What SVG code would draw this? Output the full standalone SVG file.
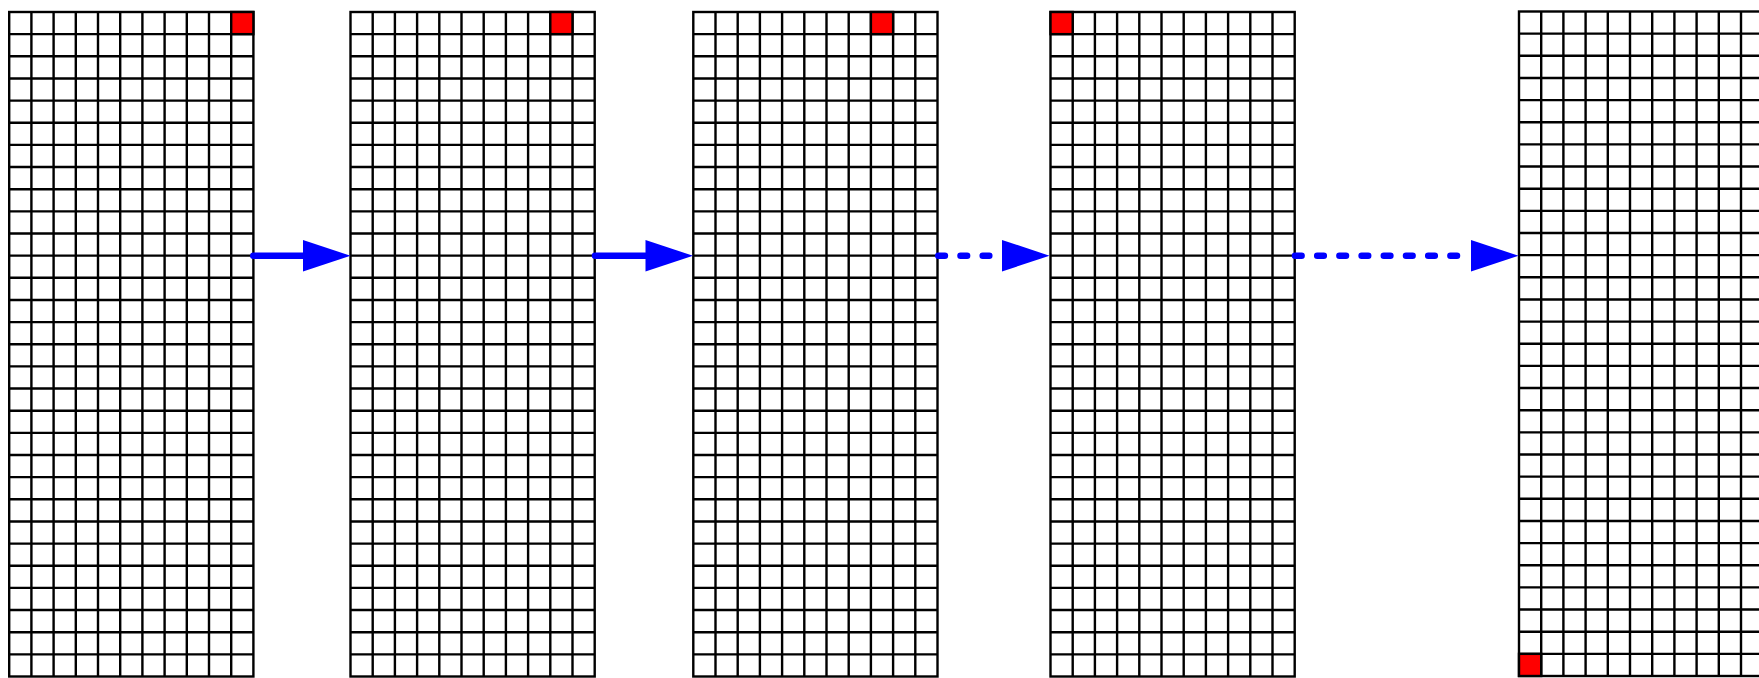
<svg xmlns="http://www.w3.org/2000/svg" xmlns:xlink="http://www.w3.org/1999/xlink" width="1759" height="678" viewBox="0 0 1759 678">
<style>
.gl{fill:none;stroke:#000;stroke-width:2.4}
.bg{fill:#fff;stroke:#000;stroke-width:2.4}
.hot{fill:#ff0000;stroke:#000;stroke-width:2.4}
.arr{fill:none;stroke:#0000ff;stroke-width:6.5;stroke-linecap:round}
.dash{stroke-dasharray:6.6 15.6}
</style>
<defs>
<marker id="head" markerUnits="userSpaceOnUse" markerWidth="48" markerHeight="32" refX="0" refY="15.75" orient="auto" overflow="visible">
<path d="M0,0 L47.5,15.75 L0,31.5 Z" fill="#0000ff"/>
</marker>
<g id="grid">
<rect class="bg" x="0" y="0" width="244.2" height="664.5"/>
<path class="gl" d="M22.2 0V664.5M44.4 0V664.5M66.6 0V664.5M88.8 0V664.5M111 0V664.5M133.2 0V664.5M155.4 0V664.5M177.6 0V664.5M199.8 0V664.5M222 0V664.5M0 22.15H244.2M0 44.3H244.2M0 66.45H244.2M0 88.6H244.2M0 110.75H244.2M0 132.9H244.2M0 155.05H244.2M0 177.2H244.2M0 199.35H244.2M0 221.5H244.2M0 243.65H244.2M0 265.8H244.2M0 287.95H244.2M0 310.1H244.2M0 332.25H244.2M0 354.4H244.2M0 376.55H244.2M0 398.7H244.2M0 420.85H244.2M0 443H244.2M0 465.15H244.2M0 487.3H244.2M0 509.45H244.2M0 531.6H244.2M0 553.75H244.2M0 575.9H244.2M0 598.05H244.2M0 620.2H244.2M0 642.35H244.2"/>
</g>
</defs>
<rect width="1759" height="678" fill="#fff"/>
<g id="grid1" transform="translate(9.2,12)">
<use xlink:href="#grid"/>
<rect class="hot" x="222" y="0" width="22.2" height="22.15"/>
</g>
<g id="grid2" transform="translate(350.5,12)">
<use xlink:href="#grid"/>
<rect class="hot" x="199.8" y="0" width="22.2" height="22.15"/>
</g>
<g id="grid3" transform="translate(693.3,12)">
<use xlink:href="#grid"/>
<rect class="hot" x="177.6" y="0" width="22.2" height="22.15"/>
</g>
<g id="grid4" transform="translate(1050.5,12)">
<use xlink:href="#grid"/>
<rect class="hot" x="0" y="0" width="22.2" height="22.15"/>
</g>
<g id="grid5" transform="translate(1519,11.5)">
<use xlink:href="#grid"/>
<rect class="hot" x="0" y="642.35" width="22.2" height="22.15"/>
</g>
<g id="connectors">
<path class="arr" d="M253.3 255.7H303" marker-end="url(#head)"/>
<path class="arr" d="M595 255.7H645.5" marker-end="url(#head)"/>
<path class="arr dash" d="M938.3 255.7H1002" marker-end="url(#head)"/>
<path class="arr dash" d="M1295 255.7H1471" marker-end="url(#head)"/>
</g>
</svg>
